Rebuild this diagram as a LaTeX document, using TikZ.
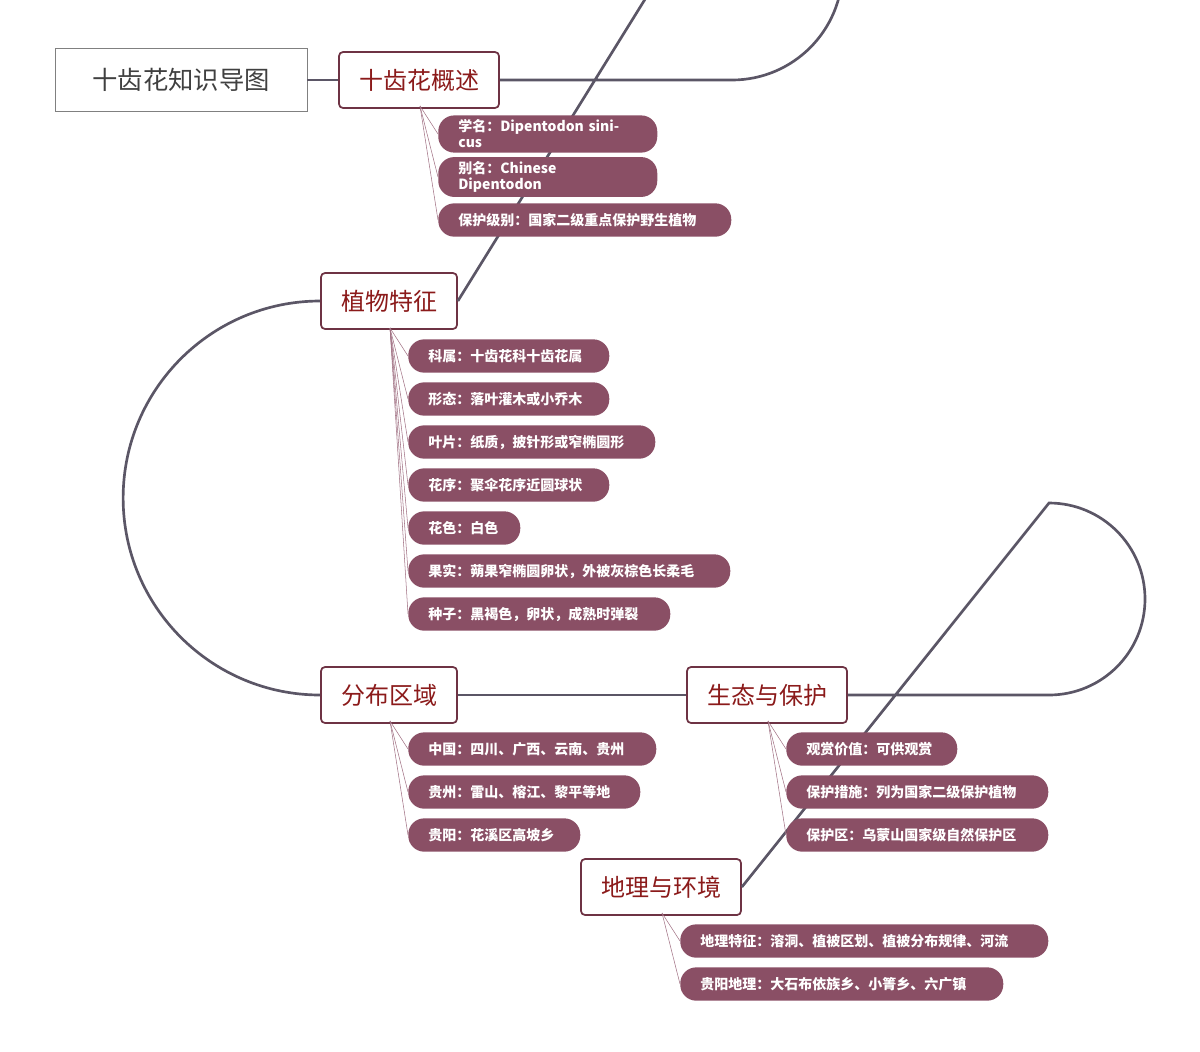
\documentclass[tikz,border=0pt]{standalone}
\usepackage{fontspec}
\setmainfont{Noto Sans CJK SC}
\definecolor{leafc}{HTML}{8A4F65}
\definecolor{mainb}{HTML}{6E3344}
\definecolor{maint}{HTML}{8B1A1A}
\definecolor{conn}{HTML}{5B5666}
\tikzset{
 mainbox/.style={draw=mainb,line width=1.3pt,fill=white,rounded corners=3pt,minimum height=42pt,inner xsep=15pt,text=maint,font=\fontsize{18}{20}\selectfont},
 leafbox/.style={fill=leafc,rounded corners=12pt,minimum height=25pt,inner xsep=15pt,text=white,font=\fontsize{10.5}{12}\selectfont\bfseries,anchor=west,align=left},
 conline/.style={draw=conn,line width=2pt},
 twig/.style={draw=leafc!80,line width=0.4pt}
}
\newcommand{\leafnode}[6]{%
 \node[leafbox,text width={(#4-#2)*0.75pt-30pt}] (#1) at (#2,#3) {#5};
 \draw[twig] (#6) -- (#1.west);}
\begin{document}
\begin{tikzpicture}[x=0.75pt,y=-0.75pt]
\useasboundingbox (0,0) rectangle (1200,1051);
\node[draw=gray,line width=0.6pt,minimum width=189pt,minimum height=47pt,text=black!75,font=\fontsize{19}{21}\selectfont] (title) at (181,80) {十齿花知识导图};
\node[mainbox] (m1) at (419,80) {十齿花概述};
\node[mainbox] (m2) at (389,301) {植物特征};
\node[mainbox] (m3) at (389,695) {分布区域};
\node[mainbox] (m4) at (767,695) {生态与保护};
\node[mainbox] (m5) at (661,887) {地理与环境};
\draw[conline] (title.east) -- (m1.west);
\draw[conline] (m1.east) -- (732,80) arc[start angle=90,end angle=-90,radius=110.5] -- (m2.east);
\draw[conline] (m2.west) arc[start angle=-90,end angle=-270,radius=197] -- (m3.west);
\draw[conline] (m3.east) -- (m4.west);
\draw[conline] (m4.east) -- (1049,695) arc[start angle=90,end angle=-90,radius=96] -- (m5.east);
\coordinate (o1) at (420,106);
\coordinate (o2) at (390,328);
\coordinate (o3) at (390,721);
\coordinate (o4) at (768,721);
\coordinate (o5) at (662,913);
\leafnode{a1}{438}{134}{657}{学名：Dipentodon sinicus}{o1}
\leafnode{a2}{438}{177}{657}{别名：Chinese Dipentodon}{o1}
\leafnode{a3}{438}{220}{731}{保护级别：国家二级重点保护野生植物}{o1}
\leafnode{b1}{408}{356}{609}{科属：十齿花科十齿花属}{o2}
\leafnode{b2}{408}{399}{609}{形态：落叶灌木或小乔木}{o2}
\leafnode{b3}{408}{442}{655}{叶片：纸质，披针形或窄椭圆形}{o2}
\leafnode{b4}{408}{485}{609}{花序：聚伞花序近圆球状}{o2}
\leafnode{b5}{408}{528}{520}{花色：白色}{o2}
\leafnode{b6}{408}{571}{730}{果实：蒴果窄椭圆卵状，外被灰棕色长柔毛}{o2}
\leafnode{b7}{408}{614}{670}{种子：黑褐色，卵状，成熟时弹裂}{o2}
\leafnode{c1}{408}{749}{656}{中国：四川、广西、云南、贵州}{o3}
\leafnode{c2}{408}{792}{640}{贵州：雷山、榕江、黎平等地}{o3}
\leafnode{c3}{408}{835}{580}{贵阳：花溪区高坡乡}{o3}
\leafnode{d1}{786}{749}{957}{观赏价值：可供观赏}{o4}
\leafnode{d2}{786}{792}{1048}{保护措施：列为国家二级保护植物}{o4}
\leafnode{d3}{786}{835}{1048}{保护区：乌蒙山国家级自然保护区}{o4}
\leafnode{e1}{680}{941}{1048}{地理特征：溶洞、植被区划、植被分布规律、河流}{o5}
\leafnode{e2}{680}{984}{1003}{贵阳地理：大石布依族乡、小箐乡、六广镇}{o5}
\end{tikzpicture}
\end{document}
